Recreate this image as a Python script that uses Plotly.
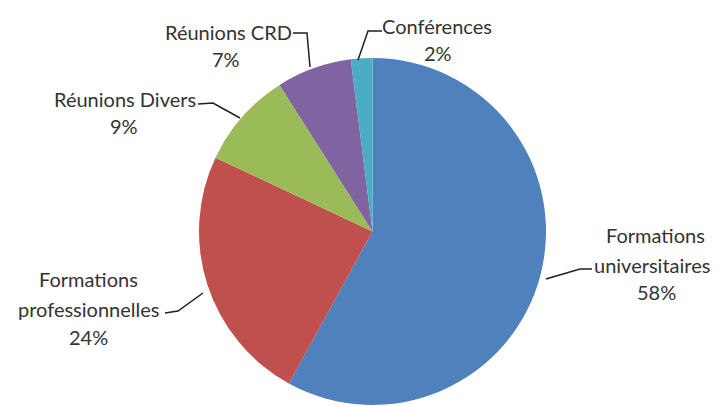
import plotly.graph_objects as go

labels = ["Formations universitaires", "Formations professionnelles", "Réunions Divers", "Réunions CRD", "Conférences"]
values = [58, 24, 9, 7, 2]
colors = ["#4F81BD", "#C0504D", "#9BBB59", "#8064A2", "#4BACC6"]
percent_text = ["58%", "24%", "9%", "7%", "2%"]

W, H = 720, 407
OFF = 8  # default body margin of the html page

def px(x):
    return (x - OFF) / W

def py(y):
    return 1 - (y - OFF) / H

fig = go.Figure(go.Pie(
    labels=labels, values=values, sort=False, direction="clockwise", rotation=0,
    marker=dict(colors=colors, line=dict(width=0)),
    textinfo="none", hoverinfo="label+percent",
    domain=dict(x=[px(197), px(548)], y=[py(405), py(58)]),
    showlegend=False,
))

font = dict(family="Lato, Open Sans, sans-serif", size=20, color="#333333")

# label lines: (line texts, line center xs, line center ys)
label_lines = [
    (["Formations", "universitaires", percent_text[0]], [655, 652, 656], [235, 265, 292]),
    (["Formations", "professionnelles", percent_text[1]], [88, 88, 88], [279, 309, 337]),
    (["Réunions Divers", percent_text[2]], [125, 124], [99, 126]),
    (["Réunions CRD", percent_text[3]], [228, 226], [32, 59]),
    (["Conférences", percent_text[4]], [437, 438], [26, 53]),
]
for lines, xs, ys in label_lines:
    for t, x, y in zip(lines, xs, ys):
        fig.add_annotation(text=t, x=px(x), y=py(y), xref="paper", yref="paper",
                           showarrow=False, font=font, align="center",
                           xanchor="center", yanchor="middle")

leaders = [
    [(592, 269), (580, 269), (546, 279)],
    [(165, 313), (178, 311), (203, 293)],
    [(198, 104), (213, 103), (240, 118)],
    [(293, 33), (307, 33), (310, 67)],
    [(382, 31), (368, 31), (358, 60)],
]
for pts in leaders:
    path = "M " + " L ".join(f"{px(x)},{py(y)}" for x, y in pts)
    fig.add_shape(type="path", path=path, xref="paper", yref="paper",
                  line=dict(color="#202020", width=1.5))

fig.update_layout(width=W, height=H, margin=dict(l=0, r=0, t=0, b=0),
                  paper_bgcolor="white", plot_bgcolor="white")
fig.write_html("out.html")
